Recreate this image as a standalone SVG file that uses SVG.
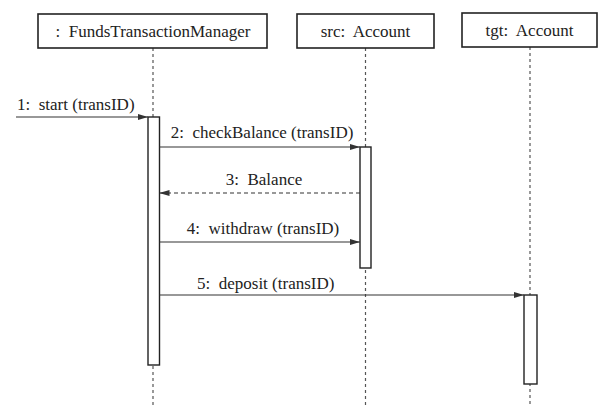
<svg xmlns="http://www.w3.org/2000/svg" width="607" height="416" viewBox="0 0 607 416">
<style>
.t{font-family:'Liberation Serif','Times New Roman','DejaVu Serif',serif;font-size:17px;fill:#222}
.box{fill:#fff;stroke:#222;stroke-width:1.6}
.life{stroke:#555;stroke-width:1.2;stroke-dasharray:3,3;fill:none}
.act{fill:#fff;stroke:#222;stroke-width:1.4}
.msg{stroke:#333;stroke-width:1.2;fill:none;marker-end:url(#ah)}
.ret{stroke:#333;stroke-width:1.2;fill:none;stroke-dasharray:4,3;marker-end:url(#ah)}
</style>
<defs>
<marker id="ah" viewBox="0 0 10 6" refX="10" refY="3" markerWidth="10" markerHeight="6" markerUnits="userSpaceOnUse" orient="auto">
<path d="M0,0 L10,3 L0,6 z" fill="#333"/>
</marker>
</defs>
<rect width="607" height="416" fill="#fff"/>
<g id="lifelines">
<line class="life" x1="153" y1="48" x2="153" y2="405"/>
<line class="life" x1="365.5" y1="48" x2="365.5" y2="405"/>
<line class="life" x1="530" y1="47" x2="530" y2="405"/>
</g>
<g id="ftm">
<rect class="box" x="38" y="14" width="229" height="34"/>
<text class="t" x="153" y="37" text-anchor="middle" xml:space="preserve">:  FundsTransactionManager</text>
<rect class="act" x="148" y="117" width="11.5" height="248"/>
</g>
<g id="src">
<rect class="box" x="297" y="14" width="137" height="34"/>
<text class="t" x="365.5" y="37" text-anchor="middle" xml:space="preserve">src:  Account</text>
<rect class="act" x="360" y="147" width="11" height="121"/>
</g>
<g id="tgt">
<rect class="box" x="462" y="13" width="135" height="34"/>
<text class="t" x="529.5" y="36" text-anchor="middle" xml:space="preserve">tgt:  Account</text>
<rect class="act" x="524" y="295" width="13" height="89"/>
</g>
<g id="connectors">
<line class="msg" x1="16" y1="117" x2="148" y2="117"/>
<text class="t" x="17" y="110" xml:space="preserve">1:  start (transID)</text>
<line class="msg" x1="159.5" y1="147" x2="360" y2="147"/>
<text class="t" x="262" y="138" text-anchor="middle" xml:space="preserve">2:  checkBalance (transID)</text>
<line class="ret" x1="360" y1="193" x2="159.5" y2="193"/>
<text class="t" x="264" y="185" text-anchor="middle" xml:space="preserve">3:  Balance</text>
<line class="msg" x1="159.5" y1="242" x2="360" y2="242"/>
<text class="t" x="263" y="234" text-anchor="middle" xml:space="preserve">4:  withdraw (transID)</text>
<line class="msg" x1="159.5" y1="295" x2="524" y2="295"/>
<text class="t" x="197" y="289" xml:space="preserve">5:  deposit (transID)</text>
</g>
</svg>
